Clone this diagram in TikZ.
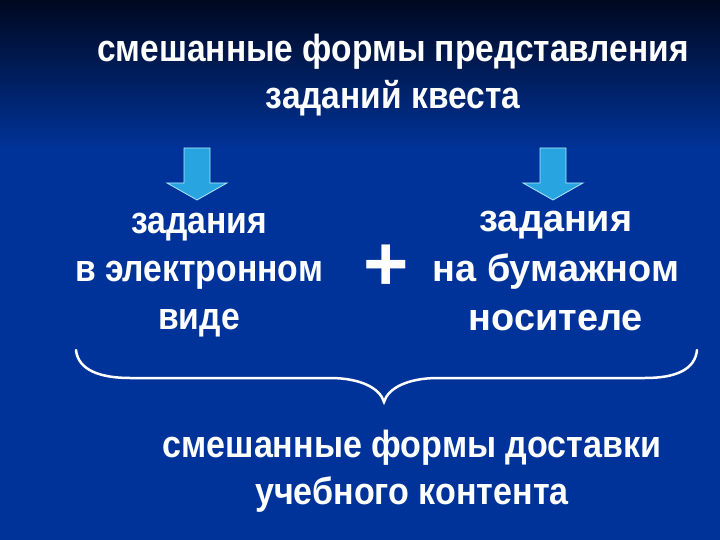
\documentclass[tikz,border=0pt]{standalone}
\usepackage{fontspec}
\setmainfont{Liberation Sans}
\newfontfamily\narrowfont[FakeStretch=0.885]{Liberation Sans}
\newfontfamily\leftfont[FakeStretch=0.89]{Liberation Sans}
\newfontfamily\bottomfont[FakeStretch=0.9]{Liberation Sans}
\definecolor{bgtop}{RGB}{0,8,32}
\definecolor{bgmain}{RGB}{0,51,153}
\definecolor{arrowfill}{RGB}{40,165,225}
\begin{document}
\begin{tikzpicture}[x=1bp,y=-1bp,
  txt/.style={text=white,align=center,inner sep=0pt},
  downarrow/.style={fill=arrowfill,draw=cyan!30!white,line width=0.8bp,line join=miter}]
\useasboundingbox (0,0) rectangle (720,540);
\fill[bgmain] (0,0) rectangle (720,540);
\shade[top color=bgtop,bottom color=bgmain] (0,0) rectangle (720,150);
% title
\node[txt,font=\narrowfont\bfseries\fontsize{38}{47}\selectfont] (title) at (393,75) {смешанные формы представления\\заданий квеста};
% arrows
\foreach \n/\cx in {la/197,ra/553}{
  \draw[downarrow] (\cx-13,148) -- (\cx+13,148) -- (\cx+13,183) -- (\cx+30,183) -- (\cx,200) -- (\cx-30,183) -- (\cx-13,183) -- cycle;
}
% blocks
\node[txt,font=\leftfont\bfseries\fontsize{38}{48}\selectfont] (left) at (199,275) {задания\\в электронном\\виде};
\node[txt,font=\bfseries\fontsize{38}{50}\selectfont] (right) at (556,271) {задания\\на бумажном\\носителе};
\node[text=white,font=\bfseries\fontsize{78}{78}\selectfont,inner sep=0pt] (plus) at (386,268) {+};
% brace
\coordinate (bl) at (76,350);
\coordinate (br) at (697,350);
\coordinate (bt) at (384,402);
\draw[white,line width=2.5bp,line cap=round]
  (bl) .. controls (78,370) and (100,378) .. (130,378) -- (330,378)
  .. controls (360,378) and (380,388) .. (bt)
  .. controls (388,388) and (408,378) .. (438,378) -- (645,378)
  .. controls (675,378) and (695,370) .. (br);
% bottom
\node[txt,font=\bottomfont\bfseries\fontsize{38}{47}\selectfont] (bottom) at (412,471) {смешанные формы доставки\\учебного контента};
\end{tikzpicture}
\end{document}
